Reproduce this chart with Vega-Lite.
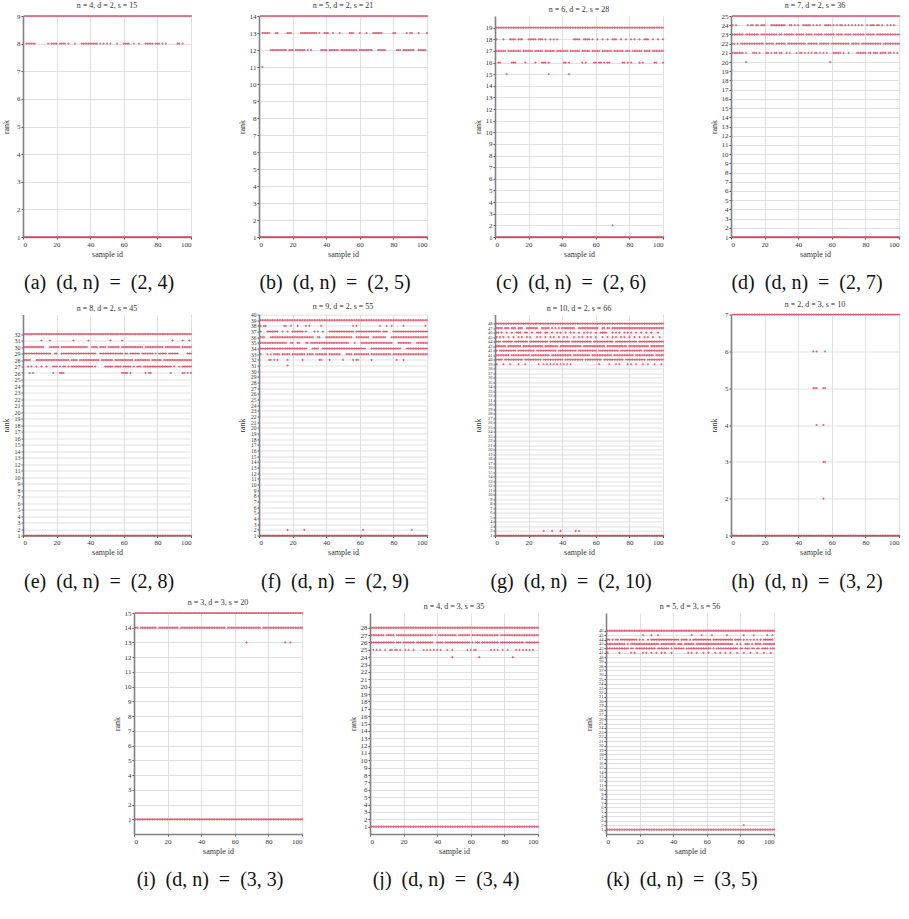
{
"$schema": "https://vega.github.io/schema/vega-lite/v6.json",
"padding": {"top": 2, "left": 2, "right": 0, "bottom": 0},
"config": {
  "font": "Liberation Serif",
  "view": {"stroke": null},
  "point": {"shape": "cross", "filled": true, "size": 5, "color": "#e23a52", "opacity": 0.8},
  "axis": {"labelFontSize": 7, "titleFontSize": 8, "titleFontWeight": "normal", "labelColor": "#333", "titleColor": "#333", "gridColor": "#d9d9d9", "gridWidth": 0.8, "domainColor": "#808080", "domainWidth": 1.6, "tickColor": "#555", "tickSize": 2, "labelPadding": 1, "titlePadding": 3, "labelOverlap": false, "labelFont": "Liberation Serif", "titleFont": "Liberation Serif"},
  "axisY": {"titleX": -13},
  "title": {"font": "Liberation Serif", "fontWeight": "normal", "fontSize": 8, "color": "#333", "offset": 2},
  "concat": {"spacing": 0}
},
"vconcat": [
{"hconcat": [
{"title": {"text": "(a)\u00a0\u00a0(d, n)\u00a0\u00a0=\u00a0\u00a0(2, 4)", "orient": "bottom", "anchor": "middle", "fontSize": 20, "color": "#111", "offset": 15, "dx": 2},
 "vconcat": [{"title": "n = 4, d = 2, s = 15", "width": 168, "height": 221,
 "data": {"values": [
  {"y": 9, "x": [1,2,3,4,5,6,7,8,9,10,11,12,13,14,15,16,17,18,19,20,21,22,23,24,25,26,27,28,29,30,31,32,33,34,35,36,37,38,39,40,41,42,43,44,45,46,47,48,49,50,51,52,53,54,55,56,57,58,59,60,61,62,63,64,65,66,67,68,69,70,71,72,73,74,75,76,77,78,79,80,81,82,83,84,85,86,87,88,89,90,91,92,93,94,95,96,97,98,99,100]},
  {"y": 8, "x": [2,3,4,5,6,7,15,17,18,19,20,22,23,24,25,27,31,35,36,37,38,39,40,41,42,43,44,46,48,50,52,56,60,61,62,63,66,69,73,74,75,76,77,79,80,81,83,85,92,93,95]},
  {"y": 1, "x": [1,2,3,4,5,6,7,8,9,10,11,12,13,14,15,16,17,18,19,20,21,22,23,24,25,26,27,28,29,30,31,32,33,34,35,36,37,38,39,40,41,42,43,44,45,46,47,48,49,50,51,52,53,54,55,56,57,58,59,60,61,62,63,64,65,66,67,68,69,70,71,72,73,74,75,76,77,78,79,80,81,82,83,84,85,86,87,88,89,90,91,92,93,94,95,96,97,98,99,100]}
 ]},
 "transform": [{"flatten": ["x"]}],
 "mark": "point",
 "encoding": {
  "x": {"field": "x", "type": "quantitative", "scale": {"domain": [0, 100], "nice": false}, "axis": {"values": [0,20,40,60,80,100], "title": "sample id"}},
  "y": {"field": "y", "type": "quantitative", "scale": {"domain": [1, 9], "nice": false, "zero": false}, "axis": {"tickCount": 9, "title": "rank"}}
 }}]},
{"title": {"text": "(b)\u00a0\u00a0(d, n)\u00a0\u00a0=\u00a0\u00a0(2, 5)", "orient": "bottom", "anchor": "middle", "fontSize": 20, "color": "#111", "offset": 15, "dx": 2},
 "vconcat": [{"title": "n = 5, d = 2, s = 21", "width": 168, "height": 221,
 "data": {"values": [
  {"y": 14, "x": [1,2,3,4,5,6,7,8,9,10,11,12,13,14,15,16,17,18,19,20,21,22,23,24,25,26,27,28,29,30,31,32,33,34,35,36,37,38,39,40,41,42,43,44,45,46,47,48,49,50,51,52,53,54,55,56,57,58,59,60,61,62,63,64,65,66,67,68,69,70,71,72,73,74,75,76,77,78,79,80,81,82,83,84,85,86,87,88,89,90,91,92,93,94,95,96,97,98,99,100]},
  {"y": 13, "x": [2,3,4,5,6,10,11,17,18,19,25,26,27,28,29,30,31,32,33,34,36,39,40,41,44,48,54,55,56,60,64,68,69,70,71,72,73,80,81,88,90,91,95,100]},
  {"y": 12, "x": [7,8,9,10,11,12,13,14,15,16,18,19,20,22,23,24,25,26,27,29,31,37,38,39,40,42,43,44,45,46,47,49,50,51,52,53,54,55,56,57,58,60,61,62,63,64,65,66,67,71,72,73,74,75,82,83,84,86,87,88,89,90,91,92,95,96,97,98,99]},
  {"y": 11, "x": [2]},
  {"y": 1, "x": [1,2,3,4,5,6,7,8,9,10,11,12,13,14,15,16,17,18,19,20,21,22,23,24,25,26,27,28,29,30,31,32,33,34,35,36,37,38,39,40,41,42,43,44,45,46,47,48,49,50,51,52,53,54,55,56,57,58,59,60,61,62,63,64,65,66,67,68,69,70,71,72,73,74,75,76,77,78,79,80,81,82,83,84,85,86,87,88,89,90,91,92,93,94,95,96,97,98,99,100]}
 ]},
 "transform": [{"flatten": ["x"]}],
 "mark": "point",
 "encoding": {
  "x": {"field": "x", "type": "quantitative", "scale": {"domain": [0, 100], "nice": false}, "axis": {"values": [0,20,40,60,80,100], "title": "sample id"}},
  "y": {"field": "y", "type": "quantitative", "scale": {"domain": [1, 14], "nice": false, "zero": false}, "axis": {"tickCount": 14, "title": "rank"}}
 }}]},
{"title": {"text": "(c)\u00a0\u00a0(d, n)\u00a0\u00a0=\u00a0\u00a0(2, 6)", "orient": "bottom", "anchor": "middle", "fontSize": 20, "color": "#111", "offset": 15, "dx": 2},
 "vconcat": [{"title": "n = 6, d = 2, s = 28", "width": 168, "height": 221,
 "data": {"values": [
  {"y": 19, "x": [1,2,3,4,5,6,7,8,9,10,11,12,13,14,15,16,17,18,19,20,21,22,23,24,25,26,27,28,29,30,31,32,33,34,35,36,37,38,39,40,41,42,43,44,45,46,47,48,49,50,51,52,53,54,55,56,57,58,59,60,61,62,63,64,65,66,67,68,69,70,71,72,73,74,75,76,77,78,79,80,81,82,83,84,85,86,87,88,89,90,91,92,93,94,95,96,97,98,99,100]},
  {"y": 18, "x": [1,5,9,10,11,12,14,15,16,20,21,22,23,24,26,27,28,30,33,35,37,47,48,49,50,53,54,55,56,58,61,64,67,70,71,72,75,78,81,83,86,89,90,91,94,97,100]},
  {"y": 17, "x": [1,2,3,4,5,6,8,9,10,11,12,13,14,15,17,18,19,20,21,22,24,25,26,27,28,30,31,32,33,34,35,37,38,39,40,41,42,43,45,46,47,48,49,50,52,53,54,55,56,58,59,60,61,62,64,65,66,67,68,69,71,72,73,74,75,76,78,79,80,82,83,84,85,86,87,89,90,91,92,94,95,96,97,98,99,100]},
  {"y": 16, "x": [2,3,10,11,12,18,24,28,29,30,32,41,42,44,52,54,59,60,62,63,65,67,68,76,77,79,81,86,88,95,96,100]},
  {"y": 15, "x": [7,32,44]},
  {"y": 2, "x": [70]},
  {"y": 1, "x": [1,2,3,4,5,6,7,8,9,10,11,12,13,14,15,16,17,18,19,20,21,22,23,24,25,26,27,28,29,30,31,32,33,34,35,36,37,38,39,40,41,42,43,44,45,46,47,48,49,50,51,52,53,54,55,56,57,58,59,60,61,62,63,64,65,66,67,68,69,70,71,72,73,74,75,76,77,78,79,80,81,82,83,84,85,86,87,88,89,90,91,92,93,94,95,96,97,98,99,100]}
 ]},
 "transform": [{"flatten": ["x"]}],
 "mark": "point",
 "encoding": {
  "x": {"field": "x", "type": "quantitative", "scale": {"domain": [0, 100], "nice": false}, "axis": {"values": [0,20,40,60,80,100], "title": "sample id"}},
  "y": {"field": "y", "type": "quantitative", "scale": {"domain": [1, 20], "nice": false, "zero": false}, "axis": {"values": [1,2,3,4,5,6,7,8,9,10,11,12,13,14,15,16,17,18,19], "title": "rank"}}
 }}]},
{"title": {"text": "(d)\u00a0\u00a0(d, n)\u00a0\u00a0=\u00a0\u00a0(2, 7)", "orient": "bottom", "anchor": "middle", "fontSize": 20, "color": "#111", "offset": 15, "dx": 2},
 "vconcat": [{"title": "n = 7, d = 2, s = 36", "width": 168, "height": 221,
 "data": {"values": [
  {"y": 25, "x": [1,2,3,4,5,6,7,8,9,10,11,12,13,14,15,16,17,18,19,20,21,22,23,24,25,26,27,28,29,30,31,32,33,34,35,36,37,38,39,40,41,42,43,44,45,46,47,48,49,50,51,52,53,54,55,56,57,58,59,60,61,62,63,64,65,66,67,68,69,70,71,72,73,74,75,76,77,78,79,80,81,82,83,84,85,86,87,88,89,90,91,92,93,94,95,96,97,98,99,100]},
  {"y": 24, "x": [1,3,10,12,13,15,16,18,19,20,24,25,26,27,28,29,30,31,32,35,36,38,40,43,44,45,46,47,49,51,53,56,57,58,59,61,63,65,66,68,70,72,74,76,78,81,83,84,85,87,88,90,93,95,97]},
  {"y": 23, "x": [1,2,3,4,5,6,7,9,10,11,12,13,14,15,16,18,19,20,21,22,23,24,25,26,27,29,30,32,33,34,35,36,37,39,40,41,42,43,45,46,47,48,50,51,52,53,54,56,57,58,59,60,61,63,64,65,66,68,69,70,71,73,74,75,76,77,78,79,81,82,83,84,85,87,88,89,90,91,92,93,94,95,96,97,98,99,100]},
  {"y": 22, "x": [1,2,4,6,7,8,9,10,11,12,13,14,15,16,17,18,19,21,22,23,24,25,27,28,29,30,31,32,34,35,36,37,38,39,40,41,42,43,44,46,47,48,49,50,51,53,54,55,56,57,58,60,61,62,63,64,65,66,67,68,69,70,72,73,74,75,76,78,79,80,81,82,83,84,85,86,87,88,89,91,92,93,94,95,96,97,98,99,100]},
  {"y": 21, "x": [1,2,3,4,5,6,7,9,13,14,15,17,21,22,24,26,27,29,30,33,35,39,41,42,44,46,48,50,51,53,55,57,61,62,63,64,65,67,70,75,76,77,78,79,80,82,83,85,86,87,89,90,91,92,94,95,97,99]},
  {"y": 20, "x": [9,59]},
  {"y": 1, "x": [1,2,3,4,5,6,7,8,9,10,11,12,13,14,15,16,17,18,19,20,21,22,23,24,25,26,27,28,29,30,31,32,33,34,35,36,37,38,39,40,41,42,43,44,45,46,47,48,49,50,51,52,53,54,55,56,57,58,59,60,61,62,63,64,65,66,67,68,69,70,71,72,73,74,75,76,77,78,79,80,81,82,83,84,85,86,87,88,89,90,91,92,93,94,95,96,97,98,99,100]}
 ]},
 "transform": [{"flatten": ["x"]}],
 "mark": "point",
 "encoding": {
  "x": {"field": "x", "type": "quantitative", "scale": {"domain": [0, 100], "nice": false}, "axis": {"values": [0,20,40,60,80,100], "title": "sample id"}},
  "y": {"field": "y", "type": "quantitative", "scale": {"domain": [1, 25], "nice": false, "zero": false}, "axis": {"tickCount": 25, "title": "rank"}}
 }}]}
], "spacing": 45},
{"hconcat": [
{"title": {"text": "(e)\u00a0\u00a0(d, n)\u00a0\u00a0=\u00a0\u00a0(2, 8)", "orient": "bottom", "anchor": "middle", "fontSize": 20, "color": "#111", "offset": 15, "dx": 2},
 "vconcat": [{"title": "n = 8, d = 2, s = 45", "width": 168, "height": 221,
 "data": {"values": [
  {"y": 32, "x": [1,2,3,4,5,6,7,8,9,10,11,12,13,14,15,16,17,18,19,20,21,22,23,24,25,26,27,28,29,30,31,32,33,34,35,36,37,38,39,40,41,42,43,44,45,46,47,48,49,50,51,52,53,54,55,56,57,58,59,60,61,62,63,64,65,66,67,68,69,70,71,72,73,74,75,76,77,78,79,80,81,82,83,84,85,86,87,88,89,90,91,92,93,94,95,96,97,98,99,100]},
  {"y": 31, "x": [11,16,30,39,52,59,89,95,99]},
  {"y": 30, "x": [1,2,3,4,5,6,7,8,9,10,11,12,16,17,18,19,20,21,23,24,25,26,27,28,29,30,31,32,33,34,35,36,37,38,41,42,43,44,46,47,48,49,51,52,53,54,55,56,57,59,60,61,62,63,64,65,66,67,68,69,70,71,73,74,75,76,77,78,79,80,81,82,83,85,86,87,88,89,90,91,92,93,95,96,97,98,99,100]},
  {"y": 29, "x": [1,2,3,4,5,6,7,8,9,10,11,12,13,14,15,16,19,20,23,24,25,26,27,28,29,30,31,32,33,34,35,36,37,38,39,40,41,42,43,46,47,48,49,50,51,52,53,54,55,56,57,58,59,61,62,64,65,66,67,68,69,71,72,73,74,75,76,77,79,81,82,83,84,85,87,88,89,90,91,92,98,99,100]},
  {"y": 28, "x": [1,2,3,4,8,9,10,11,12,13,14,15,16,17,18,19,20,21,22,23,24,25,26,27,29,30,31,32,34,35,36,37,38,39,40,41,42,43,44,45,47,48,49,50,51,52,53,55,56,57,58,59,60,61,62,63,64,65,67,68,69,70,71,72,73,74,75,77,78,79,80,81,82,84,85,86,87,88,89,90,91,92,93,94,95,96,97,98,99,100]},
  {"y": 27, "x": [3,5,8,11,14,18,19,20,22,24,25,27,29,30,31,32,33,34,35,36,37,38,39,40,41,43,49,50,51,52,53,55,56,57,58,60,61,62,63,64,66,68,69,70,72,73,74,75,76,77,78,79,80,81,82,83,84,85,86,87,88,90,93,95,96,97,98,99,100]},
  {"y": 26, "x": [4,6,18,22,23,24,59,60,61,62,64,73,75,76,88,95,96,98,100]},
  {"y": 1, "x": [1,2,3,4,5,6,7,8,9,10,11,12,13,14,15,16,17,18,19,20,21,22,23,24,25,26,27,28,29,30,31,32,33,34,35,36,37,38,39,40,41,42,43,44,45,46,47,48,49,50,51,52,53,54,55,56,57,58,59,60,61,62,63,64,65,66,67,68,69,70,71,72,73,74,75,76,77,78,79,80,81,82,83,84,85,86,87,88,89,90,91,92,93,94,95,96,97,98,99,100]}
 ]},
 "transform": [{"flatten": ["x"]}],
 "mark": "point",
 "encoding": {
  "x": {"field": "x", "type": "quantitative", "scale": {"domain": [0, 100], "nice": false}, "axis": {"values": [0,20,40,60,80,100], "title": "sample id"}},
  "y": {"field": "y", "type": "quantitative", "scale": {"domain": [1, 35], "nice": false, "zero": false}, "axis": {"labelFontSize": 6, "values": [1,2,3,4,5,6,7,8,9,10,11,12,13,14,15,16,17,18,19,20,21,22,23,24,25,26,27,28,29,30,31,32], "title": "rank"}}
 }}]},
{"title": {"text": "(f)\u00a0\u00a0(d, n)\u00a0\u00a0=\u00a0\u00a0(2, 9)", "orient": "bottom", "anchor": "middle", "fontSize": 20, "color": "#111", "offset": 15, "dx": 2},
 "vconcat": [{"title": "n = 9, d = 2, s = 55", "width": 168, "height": 221,
 "data": {"values": [
  {"y": 39, "x": [1,2,3,4,5,6,7,8,9,10,11,12,13,14,15,16,17,18,19,20,21,22,23,24,25,26,27,28,29,30,31,32,33,34,35,36,37,38,39,40,41,42,43,44,45,46,47,48,49,50,51,52,53,54,55,56,57,58,59,60,61,62,63,64,65,66,67,68,69,70,71,72,73,74,75,76,77,78,79,80,81,82,83,84,85,86,87,88,89,90,91,92,93,94,95,96,97,98,99,100]},
  {"y": 38, "x": [1,3,4,15,16,19,23,28,30,37,56,58,72,76,79,86,99]},
  {"y": 37, "x": [1,5,6,7,8,9,10,11,14,17,20,21,22,23,24,25,26,28,33,35,38,42,43,44,45,46,47,48,49,50,51,52,53,54,55,56,58,59,60,61,62,63,64,65,66,67,68,69,70,71,72,74,75,76,80,81,82,83,84,85,86,87,88,89,90,91,92,93,94,95,96,97,98,99,100]},
  {"y": 36, "x": [1,2,3,7,8,9,10,11,12,13,14,15,16,17,18,19,20,21,22,23,24,25,26,27,28,29,30,31,32,35,36,40,41,42,43,44,45,46,47,48,49,50,51,52,53,54,55,58,59,60,61,62,63,64,65,68,69,70,71,72,73,74,75,79,80,81,82,83,84,85,86,87,88,89,90,91,92,93,94,95,96,97,98,99,100]},
  {"y": 35, "x": [1,2,3,4,5,6,7,8,9,10,11,12,13,14,15,16,19,20,23,24,28,29,31,32,33,34,35,36,37,38,39,40,41,42,43,44,45,46,47,48,49,50,51,52,53,57,61,62,63,64,65,66,67,68,69,70,71,72,73,74,75,76,77,78,79,83,84,85,86,87,88,89,90,94,95,96,97,98,99,100]},
  {"y": 34, "x": [1,2,3,4,5,6,7,8,9,10,11,12,13,14,15,16,17,18,19,20,21,22,23,24,25,26,27,28,32,33,34,35,38,39,40,41,42,43,44,45,46,47,48,49,50,51,52,53,54,55,56,57,58,59,60,61,62,63,67,68,69,70,71,72,73,74,75,76,77,78,79,80,81,82,83,84,88,89,90,91,92,93,94,95,96,97,98,99,100]},
  {"y": 33, "x": [1,5,7,9,10,11,12,14,15,16,17,18,20,21,22,23,24,25,26,27,29,30,31,32,34,35,36,37,38,39,40,42,43,44,45,46,47,48,52,53,54,55,57,58,59,60,61,62,63,64,65,67,68,69,70,71,72,73,74,75,76,77,78,80,81,82,83,84,85,86,87,88,89,90,91,92,93,94,95,96,97,98,99,100]},
  {"y": 32, "x": [6,7,9,11,17,26,36,37,42,50,56,58,59,67,82,86]},
  {"y": 31, "x": [17]},
  {"y": 2, "x": [17,27,62,91]},
  {"y": 1, "x": [1,2,3,4,5,6,7,8,9,10,11,12,13,14,15,16,17,18,19,20,21,22,23,24,25,26,27,28,29,30,31,32,33,34,35,36,37,38,39,40,41,42,43,44,45,46,47,48,49,50,51,52,53,54,55,56,57,58,59,60,61,62,63,64,65,66,67,68,69,70,71,72,73,74,75,76,77,78,79,80,81,82,83,84,85,86,87,88,89,90,91,92,93,94,95,96,97,98,99,100]}
 ]},
 "transform": [{"flatten": ["x"]}],
 "mark": "point",
 "encoding": {
  "x": {"field": "x", "type": "quantitative", "scale": {"domain": [0, 100], "nice": false}, "axis": {"values": [0,20,40,60,80,100], "title": "sample id"}},
  "y": {"field": "y", "type": "quantitative", "scale": {"domain": [1, 40], "nice": false, "zero": false}, "axis": {"labelFontSize": 5.5, "tickCount": 40, "title": "rank"}}
 }}]},
{"title": {"text": "(g)\u00a0\u00a0(d, n)\u00a0\u00a0=\u00a0\u00a0(2, 10)", "orient": "bottom", "anchor": "middle", "fontSize": 20, "color": "#111", "offset": 15, "dx": 2},
 "vconcat": [{"title": "n = 10, d = 2, s = 66", "width": 168, "height": 221,
 "data": {"values": [
  {"y": 48, "x": [1,2,3,4,5,6,7,8,9,10,11,12,13,14,15,16,17,18,19,20,21,22,23,24,25,26,27,28,29,30,31,32,33,34,35,36,37,38,39,40,41,42,43,44,45,46,47,48,49,50,51,52,53,54,55,56,57,58,59,60,61,62,63,64,65,66,67,68,69,70,71,72,73,74,75,76,77,78,79,80,81,82,83,84,85,86,87,88,89,90,91,92,93,94,95,96,97,98,99,100]},
  {"y": 47, "x": [1,2,3,4,6,7,8,10,11,12,14,15,16,19,20,21,22,23,24,25,28,29,30,31,32,34,36,38,40,41,42,43,44,45,46,47,50,51,52,53,54,55,56,57,58,59,60,61,64,65,67,68,70,71,72,73,74,75,76,77,78,79,80,81,82,83,84,85,86,87,88,89,90,91,92,93,94,95,96,97,98,99,100]},
  {"y": 46, "x": [1,2,4,7,10,13,14,15,18,19,22,25,26,27,30,31,34,37,39,42,45,47,50,53,55,57,60,63,64,65,66,70,72,74,77,79,81,84,87,90,93,97]},
  {"y": 45, "x": [1,3,5,8,11,14,16,19,21,25,27,30,33,35,38,41,43,47,50,52,55,57,60,64,67,70,72,75,77,80,83,86,89,91,94,98]},
  {"y": 44, "x": [1,2,3,5,6,7,8,9,10,12,13,14,15,16,17,18,19,21,22,23,24,25,26,27,28,29,30,31,33,34,35,36,37,38,39,40,41,42,43,44,46,47,48,49,50,51,52,53,54,55,56,57,59,60,61,62,63,64,65,66,67,68,69,70,72,73,74,75,76,77,78,79,80,81,82,83,84,86,87,88,89,90,91,92,93,94,95,96,97,98,99,100]},
  {"y": 43, "x": [1,2,3,4,5,6,8,9,10,11,12,13,14,15,17,18,19,20,21,22,23,24,25,26,27,28,30,31,32,33,34,35,36,37,39,40,41,42,43,44,45,46,47,48,49,50,51,53,54,55,56,57,58,59,60,61,62,63,64,65,67,68,69,70,71,72,73,74,75,76,77,78,80,81,82,83,84,85,86,87,88,89,90,91,93,94,95,96,97,98,99,100]},
  {"y": 42, "x": [1,3,4,5,6,7,8,9,10,11,12,14,15,16,17,18,19,20,21,22,23,25,26,27,28,29,30,31,32,33,34,35,36,38,39,40,41,42,43,44,45,46,47,48,50,51,52,53,54,55,56,57,58,59,60,62,63,64,65,66,67,68,69,70,71,72,73,75,76,77,78,79,80,81,82,83,84,85,86,87,89,90,91,92,93,94,95,96,97,98,99,100]},
  {"y": 41, "x": [1,2,3,4,5,6,7,8,10,11,12,13,14,15,16,17,18,19,20,22,23,24,25,26,27,28,29,30,31,32,34,35,36,37,38,39,40,41,42,43,44,45,47,48,49,50,51,52,53,54,55,56,58,59,60,61,62,63,64,65,66,67,68,69,71,72,73,74,75,76,77,78,79,80,81,82,84,85,86,87,88,89,90,91,92,93,94,96,97,98,99,100]},
  {"y": 40, "x": [1,2,3,4,6,7,8,9,10,11,12,13,14,15,16,18,19,20,21,22,23,24,25,26,27,29,30,31,32,33,34,35,36,37,38,39,40,42,43,44,45,46,47,48,49,50,51,52,54,55,56,57,58,59,60,61,62,63,65,66,67,68,69,70,71,72,73,74,75,76,78,79,80,81,82,83,84,85,86,87,88,89,91,92,93,94,95,96,97,98,99,100]},
  {"y": 39, "x": [1,5,9,14,18,26,29,31,33,35,37,39,41,43,45,62,68,72,74,79,81,84,88,91,95,99]},
  {"y": 2, "x": [29,34,39,48,50]},
  {"y": 1, "x": [1,2,3,4,5,6,7,8,9,10,11,12,13,14,15,16,17,18,19,20,21,22,23,24,25,26,27,28,29,30,31,32,33,34,35,36,37,38,39,40,41,42,43,44,45,46,47,48,49,50,51,52,53,54,55,56,57,58,59,60,61,62,63,64,65,66,67,68,69,70,71,72,73,74,75,76,77,78,79,80,81,82,83,84,85,86,87,88,89,90,91,92,93,94,95,96,97,98,99,100]}
 ]},
 "transform": [{"flatten": ["x"]}],
 "mark": "point",
 "encoding": {
  "x": {"field": "x", "type": "quantitative", "scale": {"domain": [0, 100], "nice": false}, "axis": {"values": [0,20,40,60,80,100], "title": "sample id"}},
  "y": {"field": "y", "type": "quantitative", "scale": {"domain": [1, 50], "nice": false, "zero": false}, "axis": {"labelFontSize": 4.5, "values": [1,2,3,4,5,6,7,8,9,10,11,12,13,14,15,16,17,18,19,20,21,22,23,24,25,26,27,28,29,30,31,32,33,34,35,36,37,38,39,40,41,42,43,44,45,46,47,48], "title": "rank"}}
 }}]},
{"title": {"text": "(h)\u00a0\u00a0(d, n)\u00a0\u00a0=\u00a0\u00a0(3, 2)", "orient": "bottom", "anchor": "middle", "fontSize": 20, "color": "#111", "offset": 15, "dx": 2},
 "vconcat": [{"title": "n = 2, d = 3, s = 10", "width": 168, "height": 221,
 "data": {"values": [
  {"y": 7, "x": [1,2,3,4,5,6,7,8,9,10,11,12,13,14,15,16,17,18,19,20,21,22,23,24,25,26,27,28,29,30,31,32,33,34,35,36,37,38,39,40,41,42,43,44,45,46,47,48,49,50,51,52,53,54,55,56,57,58,59,60,61,62,63,64,65,66,67,68,69,70,71,72,73,74,75,76,77,78,79,80,81,82,83,84,85,86,87,88,89,90,91,92,93,94,95,96,97,98,99,100]},
  {"y": 6, "x": [49,51,56]},
  {"y": 5, "x": [49,50,51,55,56]},
  {"y": 4, "x": [51,55]},
  {"y": 3, "x": [55,56]},
  {"y": 2, "x": [55]},
  {"y": 1, "x": [1,2,3,4,5,6,7,8,9,10,11,12,13,14,15,16,17,18,19,20,21,22,23,24,25,26,27,28,29,30,31,32,33,34,35,36,37,38,39,40,41,42,43,44,45,46,47,48,49,50,51,52,53,54,55,56,57,58,59,60,61,62,63,64,65,66,67,68,69,70,71,72,73,74,75,76,77,78,79,80,81,82,83,84,85,86,87,88,89,90,91,92,93,94,95,96,97,98,99,100]}
 ]},
 "transform": [{"flatten": ["x"]}],
 "mark": "point",
 "encoding": {
  "x": {"field": "x", "type": "quantitative", "scale": {"domain": [0, 100], "nice": false}, "axis": {"values": [0,20,40,60,80,100], "title": "sample id"}},
  "y": {"field": "y", "type": "quantitative", "scale": {"domain": [1, 7], "nice": false, "zero": false}, "axis": {"tickCount": 7, "title": "rank"}}
 }}]}
], "spacing": 45},
{"hconcat": [
{"width": 45, "height": 10, "data": {"values": []}, "mark": "point", "encoding": {}},
{"title": {"text": "(i)\u00a0\u00a0(d, n)\u00a0\u00a0=\u00a0\u00a0(3, 3)", "orient": "bottom", "anchor": "middle", "fontSize": 20, "color": "#111", "offset": 15, "dx": 2},
 "vconcat": [{"title": "n = 3, d = 3, s = 20", "width": 168, "height": 221,
 "data": {"values": [
  {"y": 15, "x": [1,2,3,4,5,6,7,8,9,10,11,12,13,14,15,16,17,18,19,20,21,22,23,24,25,26,27,28,29,30,31,32,33,34,35,36,37,38,39,40,41,42,43,44,45,46,47,48,49,50,51,52,53,54,55,56,57,58,59,60,61,62,63,64,65,66,67,68,69,70,71,72,73,74,75,76,77,78,79,80,81,82,83,84,85,86,87,88,89,90,91,92,93,94,95,96,97,98,99,100]},
  {"y": 14, "x": [1,2,4,5,6,7,8,9,10,11,12,13,15,16,17,18,19,20,21,22,23,24,25,26,28,29,30,31,32,33,34,35,36,37,38,39,40,41,42,43,44,45,46,47,48,49,50,51,52,53,54,56,57,58,59,60,61,62,63,64,65,66,67,68,69,70,71,72,73,74,75,77,78,79,80,81,82,83,84,85,86,87,88,89,90,91,92,93,94,95,96,97,98,99,100]},
  {"y": 13, "x": [67,90,93]},
  {"y": 1, "x": [1,2,3,4,5,6,7,8,9,10,11,12,13,14,15,16,17,18,19,20,21,22,23,24,25,26,27,28,29,30,31,32,33,34,35,36,37,38,39,40,41,42,43,44,45,46,47,48,49,50,51,52,53,54,55,56,57,58,59,60,61,62,63,64,65,66,67,68,69,70,71,72,73,74,75,76,77,78,79,80,81,82,83,84,85,86,87,88,89,90,91,92,93,94,95,96,97,98,99,100]}
 ]},
 "transform": [{"flatten": ["x"]}],
 "mark": "point",
 "encoding": {
  "x": {"field": "x", "type": "quantitative", "scale": {"domain": [0, 100], "nice": false}, "axis": {"values": [0,20,40,60,80,100], "title": "sample id"}},
  "y": {"field": "y", "type": "quantitative", "scale": {"domain": [0, 15], "nice": false, "zero": false}, "axis": {"values": [1,2,3,4,5,6,7,8,9,10,11,12,13,14,15], "title": "rank"}}
 }}]},
{"title": {"text": "(j)\u00a0\u00a0(d, n)\u00a0\u00a0=\u00a0\u00a0(3, 4)", "orient": "bottom", "anchor": "middle", "fontSize": 20, "color": "#111", "offset": 15, "dx": 2},
 "vconcat": [{"title": "n = 4, d = 3, s = 35", "width": 168, "height": 221,
 "data": {"values": [
  {"y": 28, "x": [1,2,3,4,5,6,7,8,9,10,11,12,13,14,15,16,17,18,19,20,21,22,23,24,25,26,27,28,29,30,31,32,33,34,35,36,37,38,39,40,41,42,43,44,45,46,47,48,49,50,51,52,53,54,55,56,57,58,59,60,61,62,63,64,65,66,67,68,69,70,71,72,73,74,75,76,77,78,79,80,81,82,83,84,85,86,87,88,89,90,91,92,93,94,95,96,97,98,99,100]},
  {"y": 27, "x": [1,2,3,4,5,6,7,8,10,11,12,13,14,16,17,18,19,20,21,22,23,24,25,26,27,28,29,30,31,32,33,34,35,36,37,39,41,42,43,44,45,46,47,48,49,50,51,53,54,55,56,57,58,59,61,62,63,64,65,66,67,68,69,70,71,72,73,74,75,76,78,79,80,81,82,83,84,85,86,87,88,89,90,91,92,93,94,95,96,97,98,99,100]},
  {"y": 26, "x": [1,2,3,4,5,6,7,8,9,10,11,12,13,14,16,17,18,20,21,22,23,24,25,26,28,29,30,31,32,33,34,35,36,37,40,41,42,43,45,46,47,48,49,50,51,52,53,54,55,56,57,58,59,61,63,64,65,67,68,69,70,71,72,73,74,75,76,78,79,80,81,82,83,84,85,86,87,88,89,90,91,93,94,95,96,97,98,99,100]},
  {"y": 25, "x": [2,4,6,9,12,13,15,16,18,21,23,26,32,34,36,38,40,42,46,49,58,60,62,63,72,74,76,79,82,87,89,91,93,95,97]},
  {"y": 24, "x": [49,65,85]},
  {"y": 1, "x": [1,2,3,4,5,6,7,8,9,10,11,12,13,14,15,16,17,18,19,20,21,22,23,24,25,26,27,28,29,30,31,32,33,34,35,36,37,38,39,40,41,42,43,44,45,46,47,48,49,50,51,52,53,54,55,56,57,58,59,60,61,62,63,64,65,66,67,68,69,70,71,72,73,74,75,76,77,78,79,80,81,82,83,84,85,86,87,88,89,90,91,92,93,94,95,96,97,98,99,100]}
 ]},
 "transform": [{"flatten": ["x"]}],
 "mark": "point",
 "encoding": {
  "x": {"field": "x", "type": "quantitative", "scale": {"domain": [0, 100], "nice": false}, "axis": {"values": [0,20,40,60,80,100], "title": "sample id"}},
  "y": {"field": "y", "type": "quantitative", "scale": {"domain": [0, 30], "nice": false, "zero": false}, "axis": {"values": [1,2,3,4,5,6,7,8,9,10,11,12,13,14,15,16,17,18,19,20,21,22,23,24,25,26,27,28], "title": "rank"}}
 }}]},
{"title": {"text": "(k)\u00a0\u00a0(d, n)\u00a0\u00a0=\u00a0\u00a0(3, 5)", "orient": "bottom", "anchor": "middle", "fontSize": 20, "color": "#111", "offset": 15, "dx": 2},
 "vconcat": [{"title": "n = 5, d = 3, s = 56", "width": 168, "height": 221,
 "data": {"values": [
  {"y": 46, "x": [1,2,3,4,5,6,7,8,9,10,11,12,13,14,15,16,17,18,19,20,21,22,23,24,25,26,27,28,29,30,31,32,33,34,35,36,37,38,39,40,41,42,43,44,45,46,47,48,49,50,51,52,53,54,55,56,57,58,59,60,61,62,63,64,65,66,67,68,69,70,71,72,73,74,75,76,77,78,79,80,81,82,83,84,85,86,87,88,89,90,91,92,93,94,95,96,97,98,99,100]},
  {"y": 45, "x": [22,27,31,51,57,63,72,82,88,96,99]},
  {"y": 44, "x": [1,2,4,6,7,9,10,11,12,13,14,15,16,17,18,20,22,25,27,28,29,30,31,32,33,34,35,36,37,38,39,40,41,42,43,45,46,47,48,50,52,53,54,55,56,57,58,59,60,61,62,64,65,66,67,68,69,70,71,72,73,74,75,77,78,79,80,82,84,86,88,90,92,94,95,96,97,98,99]},
  {"y": 43, "x": [1,2,3,4,5,6,7,8,9,10,11,13,15,16,17,18,19,20,21,22,23,24,25,26,27,28,29,30,31,33,34,35,36,37,38,39,40,41,43,44,45,47,48,49,50,51,52,54,55,56,57,58,59,60,61,62,63,64,65,66,67,68,69,70,71,72,73,74,75,78,80,83,84,85,87,89,90,91,92,94,95,96,97,98,99,100]},
  {"y": 42, "x": [1,2,3,4,5,6,7,8,9,10,11,12,13,15,16,18,19,20,21,22,23,24,25,26,27,28,29,31,32,33,34,35,36,37,39,41,42,43,44,45,46,48,49,50,51,52,53,54,55,56,57,58,59,60,61,62,64,66,67,68,69,70,71,72,73,74,75,76,77,78,80,81,83,84,85,87,88,90,91,93,94,95,96,98,99,100]},
  {"y": 41, "x": [1,8,15,17,22,24,27,30,33,35,39,49,51,54,58,61,65,68,71,74,78,82,86,90,94,98]},
  {"y": 2, "x": [82]},
  {"y": 1, "x": [1,2,3,4,5,6,7,8,9,10,11,12,13,14,15,16,17,18,19,20,21,22,23,24,25,26,27,28,29,30,31,32,33,34,35,36,37,38,39,40,41,42,43,44,45,46,47,48,49,50,51,52,53,54,55,56,57,58,59,60,61,62,63,64,65,66,67,68,69,70,71,72,73,74,75,76,77,78,79,80,81,82,83,84,85,86,87,88,89,90,91,92,93,94,95,96,97,98,99,100]}
 ]},
 "transform": [{"flatten": ["x"]}],
 "mark": "point",
 "encoding": {
  "x": {"field": "x", "type": "quantitative", "scale": {"domain": [0, 100], "nice": false}, "axis": {"values": [0,20,40,60,80,100], "title": "sample id"}},
  "y": {"field": "y", "type": "quantitative", "scale": {"domain": [0, 50], "nice": false, "zero": false}, "axis": {"labelFontSize": 4.5, "values": [1,2,3,4,5,6,7,8,9,10,11,12,13,14,15,16,17,18,19,20,21,22,23,24,25,26,27,28,29,30,31,32,33,34,35,36,37,38,39,40,41,42,43,44,45,46], "title": "rank"}}
 }}]}
], "spacing": 45}
], "spacing": 7.5
}
